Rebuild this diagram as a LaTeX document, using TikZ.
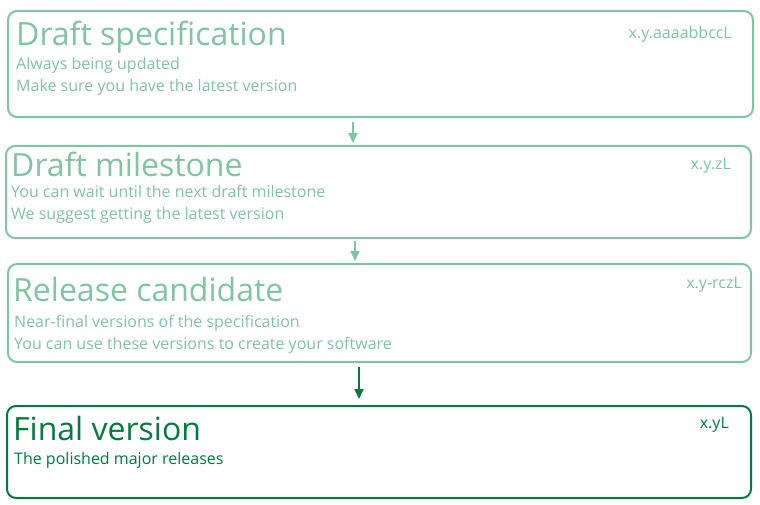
\documentclass[tikz,border=0pt]{standalone}
\usepackage{fontspec}
\setmainfont{Open Sans}
\usetikzlibrary{arrows.meta}
\definecolor{lightg}{RGB}{128,196,160}
\definecolor{darkg}{RGB}{0,122,61}
\tikzset{
  box/.style={draw, line width=2pt, rounded corners=9pt},
  title/.style={anchor=base west, inner sep=0pt, font=\fontsize{32}{38}\selectfont},
  sub/.style={anchor=base west, inner sep=0pt, font=\fontsize{16}{19}\selectfont},
  ver/.style={anchor=base east, inner sep=0pt, font=\fontsize{16}{19}\selectfont},
  conn/.style={line width=2pt, -{Triangle[length=10pt,width=9pt]}, shorten >=2pt, shorten <=1pt}
}
\begin{document}
\begin{tikzpicture}[x=1pt,y=-1pt]
\useasboundingbox (0,0) rectangle (760,505);
% box 1
\draw[box, lightg] (8,11) rectangle (753,117);
\node[title, lightg] (t1) at (16,46) {Draft specification};
\node[sub, lightg] (s1a) at (16,69.5) {Always being updated};
\node[sub, lightg] (s1b) at (16,91.5) {Make sure you have the latest version};
\node[ver, lightg] (v1) at (732,39) {x.y.aaaabbccL};
% box 2
\draw[box, lightg] (6,146) rectangle (751,238);
\node[title, lightg] (t2) at (11,177) {Draft milestone};
\node[sub, lightg] (s2a) at (11,197.5) {You can wait until the next draft milestone};
\node[sub, lightg] (s2b) at (11,219.5) {We suggest getting the latest version};
\node[ver, lightg] (v2) at (731,170) {x.y.zL};
% box 3
\draw[box, lightg] (8,264) rectangle (751,362);
\node[title, lightg] (t3) at (13,301) {Release candidate};
\node[sub, lightg] (s3a) at (14,327.5) {Near-final versions of the specification};
\node[sub, lightg] (s3b) at (14,349) {You can use these versions to create your software};
\node[ver, lightg] (v3) at (742,288) {x.y-rczL};
% box 4
\draw[box, darkg] (7,406) rectangle (751,498);
\node[title, darkg] (t4) at (13,440) {Final version};
\node[sub, darkg] (s4a) at (14,464) {The polished major releases};
\node[ver, darkg] (v4) at (729,428) {x.yL};
% arrows
\coordinate (a1s) at (353,121);
\coordinate (a1e) at (353,145);
\coordinate (a2s) at (355,240);
\coordinate (a2e) at (355,263);
\coordinate (a3s) at (359,366);
\coordinate (a3e) at (359,401);
\draw[conn, lightg] (a1s) -- (a1e);
\draw[conn, lightg] (a2s) -- (a2e);
\draw[conn, darkg] (a3s) -- (a3e);
\end{tikzpicture}
\end{document}
